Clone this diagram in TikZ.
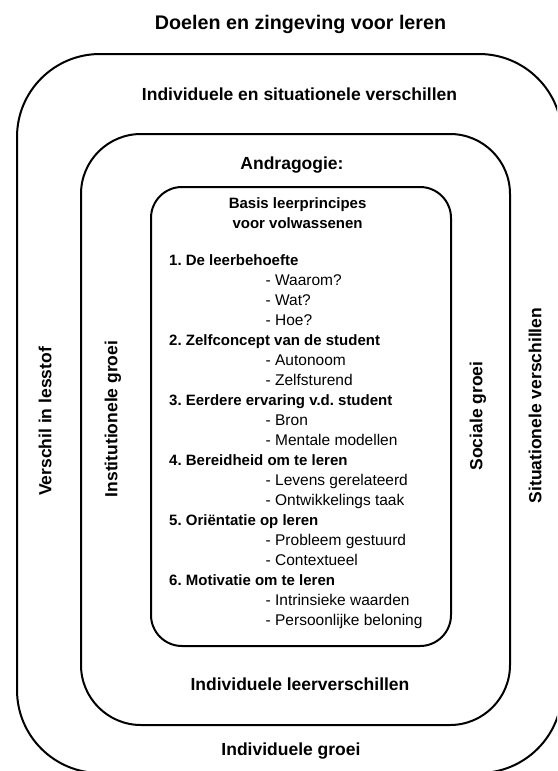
\documentclass[tikz,border=0pt]{standalone}
\usepackage{fontspec}
\setmainfont{Liberation Sans}
\usetikzlibrary{positioning,calc}
\frenchspacing

\tikzset{
  framebox/.style={draw, line width=2pt, outer sep=0pt, inner sep=0pt},
  goal/.style={font=\bfseries\fontsize{19.7}{23}\selectfont, inner sep=0pt, text height=14pt, text depth=0pt},
  heading/.style={font=\bfseries\fontsize{17.5}{21}\selectfont, inner sep=0pt, text height=12.5pt, text depth=0pt},
  side/.style={heading, rotate=90, anchor=center},
  caption/.style={font=\bfseries\fontsize{15}{19}\selectfont, inner sep=0pt, text height=10.7pt, text depth=0pt},
  principle/.style={font=\bfseries\fontsize{15}{20}\selectfont, inner sep=0pt, anchor=base west},
  detail/.style={font=\fontsize{15.5}{20}\selectfont, inner sep=0pt, anchor=base west},
}

\begin{document}
\begin{tikzpicture}[x=1pt, y=-1pt]
          \clip (0,0) rectangle (557,771);

          % frames
          \node[framebox, minimum width=545pt, minimum height=719pt, rounded corners=83pt] (outer_frame) at (289.5,413.5) {};
          \node[framebox, minimum width=429pt, minimum height=591pt, rounded corners=60pt] (middle_frame) at (295.5,429.5) {};
          \node[framebox, minimum width=300pt, minimum height=459pt, rounded corners=31pt] (inner_frame) at (301,416.5) {};

          % outer ring
          \node[goal, above=24pt of outer_frame, xshift=11pt] (learning_goals) {Doelen en zingeving voor leren};
          \node[heading, below=34.2pt of outer_frame.north, xshift=10pt] (individual_situational) {Individuele en situationele verschillen};
          \node[heading, below=17.5pt of middle_frame.south, xshift=-4.5pt] (individual_growth) {Individuele groei};
          \node[side] (subject_matter) at (45,421.5) {Verschil in lesstof};
          \node[side] (situational_diff) at (535,405.5) {Situationele verschillen};

          % middle ring
          \node[heading, below=23pt of middle_frame.north, xshift=-3.5pt] (andragogy) {Andragogie:};
          \node[heading, below=32.2pt of inner_frame.south, xshift=-1pt] (learning_diff) {Individuele leerverschillen};
          \node[side] (institutional_growth) at (111,419) {Institutionele groei};
          \node[side] (social_growth) at (476,416) {Sociale groei};

          % inner box
          \node[caption, below=10.8pt of inner_frame.north, xshift=-3.4pt] (basis_title) {Basis leerprincipes};
          \node[caption, below=8.3pt of basis_title] (basis_sub) {voor volwassenen};

          %1
          \node[principle] (need) at (169,265.5) {1. De leerbehoefte};
          \node[detail] (need_why) at (265.5,285.5) {- Waarom?};
          \node[detail] (need_what) at (265.5,305.5) {- Wat?};
          \node[detail] (need_how) at (265.5,325.5) {- Hoe?};
          %2
          \node[principle] (self_concept) at (169,345.5) {2. Zelfconcept van de student};
          \node[detail] (self_autonomous) at (265.5,365.5) {- Autonoom};
          \node[detail] (self_directed) at (265.5,385.5) {- Zelfsturend};
          %3
          \node[principle] (experience) at (169,405.5) {3. Eerdere ervaring v.d. student};
          \node[detail] (experience_source) at (265.5,425.5) {- Bron};
          \node[detail] (experience_models) at (265.5,445.5) {- Mentale modellen};
          %4
          \node[principle] (readiness) at (169,465.5) {4. Bereidheid om te leren};
          \node[detail] (readiness_life) at (265.5,485.5) {- Levens gerelateerd};
          \node[detail] (readiness_task) at (265.5,505.5) {- Ontwikkelings taak};
          %5
          \node[principle] (orientation) at (169,525.5) {5. Oriëntatie op leren};
          \node[detail] (orientation_problem) at (265.5,545.5) {- Probleem gestuurd};
          \node[detail] (orientation_context) at (265.5,565.5) {- Contextueel};
          %6
          \node[principle] (motivation) at (169,585.5) {6. Motivatie om te leren};
          \node[detail] (motivation_values) at (265.5,605.5) {- Intrinsieke waarden};
          \node[detail] (motivation_reward) at (265.5,625.5) {- Persoonlijke beloning};

\end{tikzpicture}
\end{document}
